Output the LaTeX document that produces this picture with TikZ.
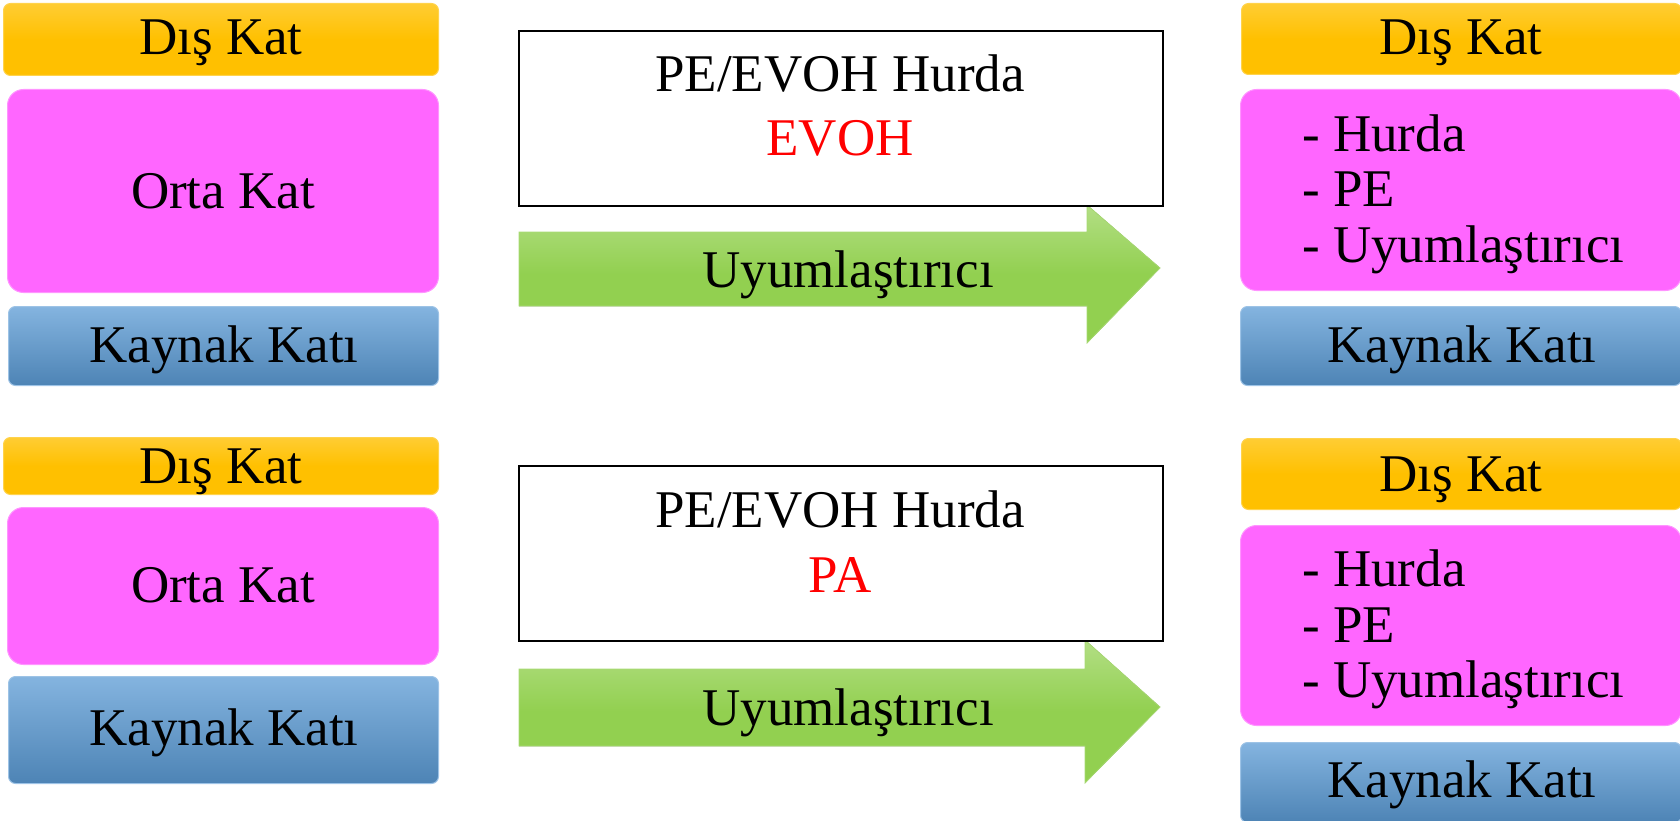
\documentclass[tikz,border=0pt]{standalone}
\usepackage{fontspec}
\setmainfont{Liberation Serif}
\definecolor{dkorange}{HTML}{FFC000}
\definecolor{dkpink}{HTML}{FF66FF}
\definecolor{dkblue}{HTML}{5B9BD5}
\definecolor{dkgreen}{HTML}{92D050}
\tikzset{
  layer/.style={rectangle, anchor=north west, inner sep=0pt, rounded corners=7pt},
  outerbox/.style={layer, top color=dkorange!80!white, bottom color=dkorange, middle color=dkorange, draw=dkorange!70!white, line width=1pt},
  midbox/.style={layer, rounded corners=16pt, fill=dkpink, draw=dkpink!70!white, line width=1pt},
  weldbox/.style={layer, top color=dkblue!75!white, bottom color=dkblue!85!black, draw=dkblue!60!white, line width=1pt},
  scrapbox/.style={rectangle, anchor=north west, inner sep=0pt, draw=black, line width=1.6pt, fill=white},
  arrowbody/.style={top color=dkgreen!70!white, bottom color=dkgreen, middle color=dkgreen, draw=dkgreen!80!white, line width=0.8pt},
  lbl/.style={anchor=base, inner sep=0pt, font=\fontsize{53}{60}\selectfont},
  item/.style={anchor=base west, inner sep=0pt, font=\fontsize{53}{60}\selectfont}
}
\begin{document}
\begin{tikzpicture}[x=1pt, y=-1pt]
\useasboundingbox (0,0) rectangle (1680,821);
% ---------- top row ----------
\node[outerbox, minimum width=435pt, minimum height=72pt] (dk1) at (3,3) {};
\node[midbox, minimum width=431pt, minimum height=203pt] (ok1) at (7,89) {};
\node[weldbox, minimum width=430pt, minimum height=79pt] (kk1) at (8,306) {};
\node[lbl] (t_dk1) at (221,55) {Dış Kat};
\node[lbl] (t_ok1) at (223,208) {Orta Kat};
\node[lbl] (t_kk1) at (224,362) {Kaynak Katı};

\fill[arrowbody] (519,232) -- (1087,232) -- (1087,205) -- (1160,268) -- (1087,343) -- (1087,306) -- (519,306) -- cycle;
\node[lbl] (t_ar1) at (848,287) {Uyumlaştırıcı};
\node[scrapbox, minimum width=644pt, minimum height=175pt] (sc1) at (518,30) {};
\node[lbl] (t_sc1) at (840,92) {PE/EVOH Hurda};
\node[lbl, text=red] (t_ev1) at (840,156) {EVOH};

\node[outerbox, minimum width=440pt, minimum height=71pt] (dk2) at (1241,3) {};
\node[midbox, minimum width=441pt, minimum height=201pt] (ok2) at (1240,89) {};
\node[weldbox, minimum width=441pt, minimum height=79pt] (kk2) at (1240,306) {};
\node[lbl] (t_dk2) at (1461,55) {Dış Kat};
\node[item] (t_l21) at (1302,152) {- Hurda};
\node[item] (t_l22) at (1302,207) {- PE};
\node[item] (t_l23) at (1302,262) {- Uyumlaştırıcı};
\node[lbl] (t_kk2) at (1462,362) {Kaynak Katı};

% ---------- bottom row ----------
\node[outerbox, minimum width=435pt, minimum height=57pt] (dk3) at (3,437) {};
\node[midbox, minimum width=431pt, minimum height=157pt] (ok3) at (7,507) {};
\node[weldbox, minimum width=430pt, minimum height=107pt] (kk3) at (8,676) {};
\node[lbl] (t_dk3) at (221,483) {Dış Kat};
\node[lbl] (t_ok3) at (223,602) {Orta Kat};
\node[lbl] (t_kk3) at (224,745) {Kaynak Katı};

\fill[arrowbody] (519,669) -- (1085,669) -- (1085,640) -- (1160,707) -- (1085,783) -- (1085,746) -- (519,746) -- cycle;
\node[lbl] (t_ar2) at (848,725) {Uyumlaştırıcı};
\node[scrapbox, minimum width=644pt, minimum height=175pt] (sc2) at (518,465) {};
\node[lbl] (t_sc2) at (840,527) {PE/EVOH Hurda};
\node[lbl, text=red] (t_pa2) at (840,592) {PA};

\node[outerbox, minimum width=440pt, minimum height=71pt] (dk4) at (1241,438) {};
\node[midbox, minimum width=441pt, minimum height=200pt] (ok4) at (1240,525) {};
\node[weldbox, minimum width=441pt, minimum height=80pt] (kk4) at (1240,742) {};
\node[lbl] (t_dk4) at (1461,491) {Dış Kat};
\node[item] (t_l41) at (1302,586) {- Hurda};
\node[item] (t_l42) at (1302,642) {- PE};
\node[item] (t_l43) at (1302,697) {- Uyumlaştırıcı};
\node[lbl] (t_kk4) at (1462,797) {Kaynak Katı};
\end{tikzpicture}
\end{document}
